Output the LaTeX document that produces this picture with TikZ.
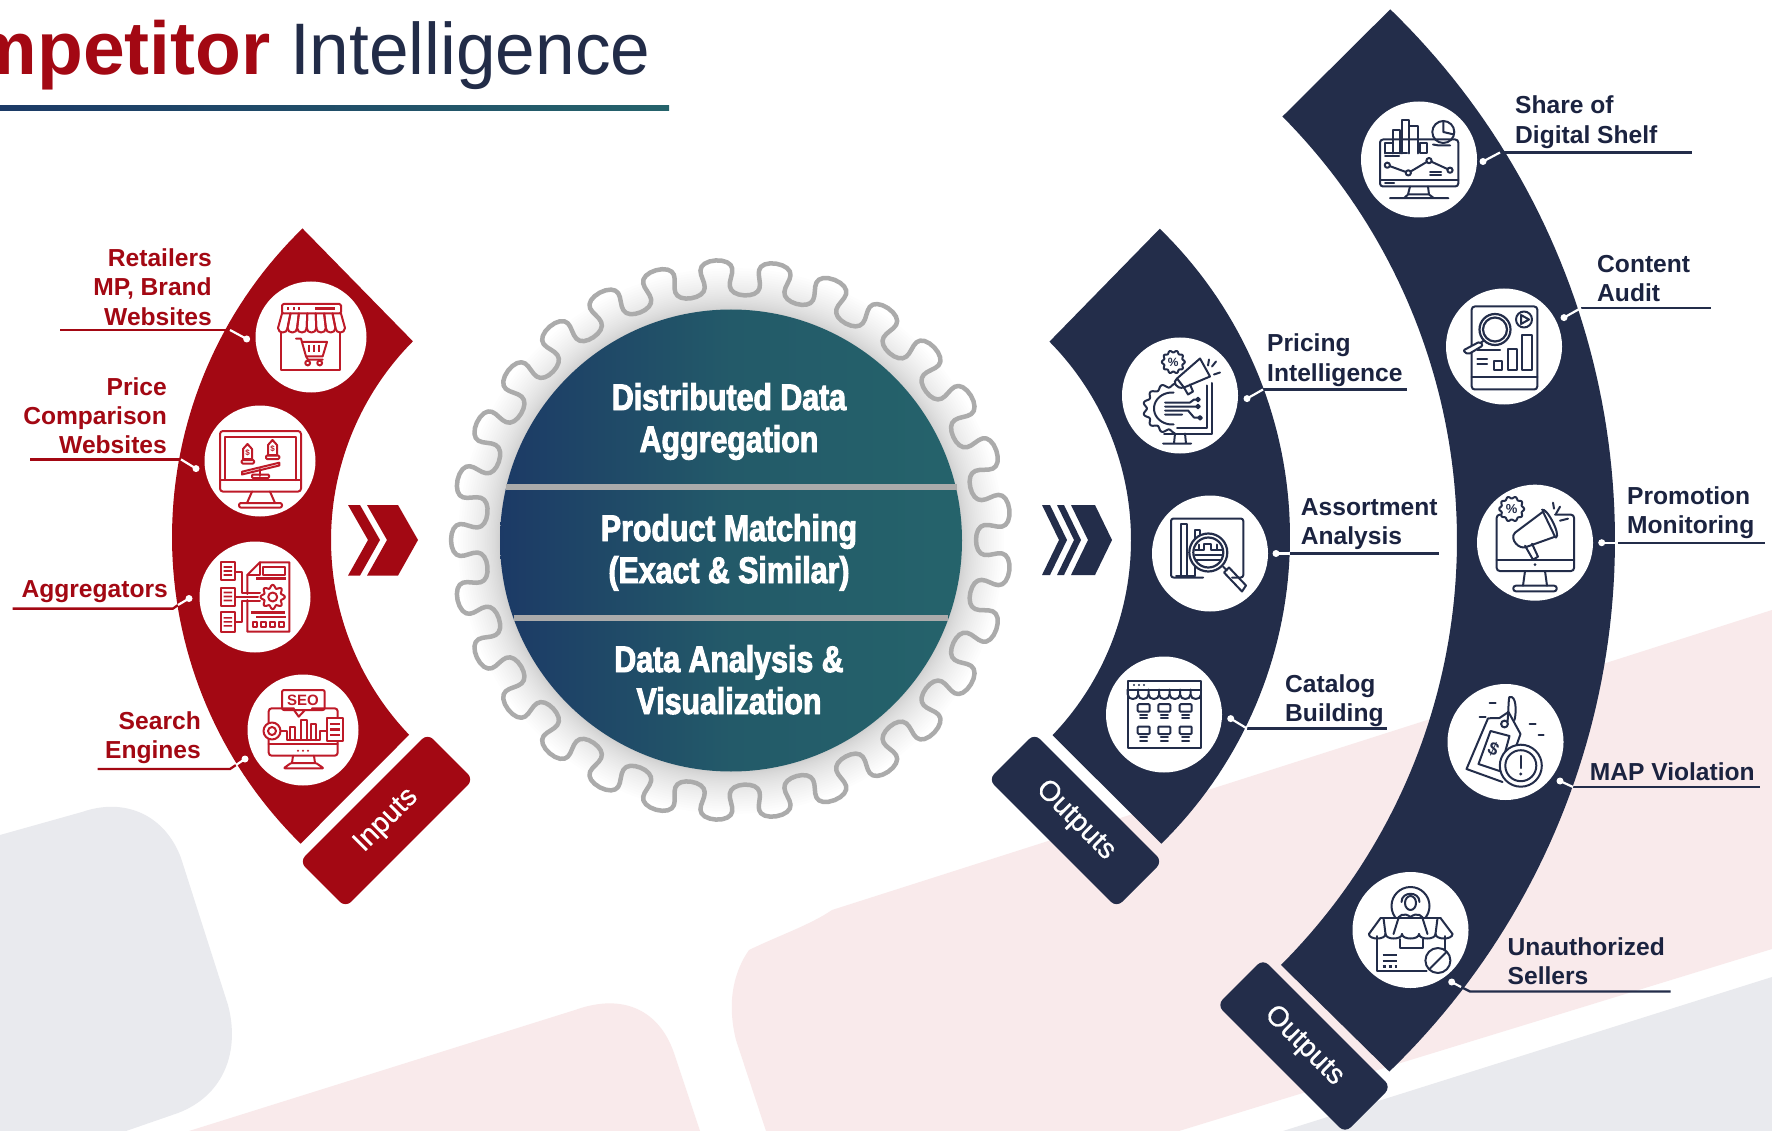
\documentclass[tikz,border=0pt]{standalone}
\usepackage{fontspec}
\setmainfont{Liberation Sans}
\newfontfamily\condfont[FakeStretch=0.82,BoldFeatures={FakeBold=2.6}]{Liberation Sans}
\newfontfamily\medfont[FakeBold=0.7]{Liberation Sans}
\newfontfamily\titlefont[FakeStretch=0.975]{Liberation Sans}
\definecolor{redc}{HTML}{A30813}
\definecolor{navyc}{HTML}{232D4A}
\definecolor{txtn}{HTML}{1B2340}
\definecolor{titlen}{HTML}{222C48}
\definecolor{grayb}{HTML}{E9EAEE}
\definecolor{pinkb}{HTML}{F9EAEB}
\definecolor{gearg}{HTML}{ABABAB}
\definecolor{blueL}{HTML}{1C3A66}
\definecolor{tealM}{HTML}{235A69}
\definecolor{tealR}{HTML}{25636B}
\definecolor{icoR}{HTML}{BE1A28}
\colorlet{icoc}{icoR}
\tikzset{
  ic/.style={draw=icoc,line width=2pt,line join=round,line cap=round},
  icb/.style={draw=icoc,line width=2.6pt,line cap=butt},
  icf/.style={fill=icoc,draw=none},
  wcirc/.style={circle,fill=white,draw=none,inner sep=0pt,minimum size=#1},
  lab/.style={font=\fontsize{24.6}{29.4}\selectfont\bfseries,inner sep=0pt},
  labr/.style={lab,align=right,anchor=base east,text=redc},
  labn/.style={lab,align=left,anchor=base west,text=txtn},
  ctext/.style={font=\fontsize{37}{42}\selectfont\condfont\bfseries,text=white,align=center,inner sep=0pt,anchor=base},
  tab/.style={rectangle,rounded corners=8pt,minimum width=181pt,minimum height=65pt,inner sep=0pt,fill=#1,text=white,font=\fontsize{28.5}{30}\selectfont\medfont},
  dotn/.style={circle,fill=white,draw=none,inner sep=0pt,minimum size=7pt},
  tiny/.style={inner sep=0pt,text=icoc,font=\fontsize{#1}{#1}\selectfont\bfseries}
}
% name, dot, edge, bend, end, colour
\newcommand\leaderline[6]{%
  \coordinate (#1d) at (#2); \coordinate (#1k) at (#3);
  \coordinate (#1b) at (#4); \coordinate (#1e) at (#5);
  \draw[draw=#6,line width=2.3pt] (#1k) -- (#1b) -- (#1e);
  \draw[draw=white,line width=2.2pt] (#1d) -- (#1k);
  \node[dotn] (#1n) at (#1d) {};
}
% x, y, r, teeth, amplitude
\newcommand\cog[5]{\draw[ic] plot[domain=0:360,samples=97] ({#1+(#3+#5*cos(#4*\x))*cos(\x)},{#2+(#3+#5*cos(#4*\x))*sin(\x)}) -- cycle;}
\begin{document}
\begin{tikzpicture}[x=1pt,y=-1pt,declare function={gr(\t)=262.5+17.5*cos(29*\t);ga(\t)=\t+1.5*sin(58*\t);}]
\useasboundingbox (0,0) rectangle (1772,1131);
\clip (0,0) rectangle (1772,1131);
\fill[white] (0,0) rectangle (1772,1131);
% background
\fill[grayb] (0,835) -- (82,812) .. controls (125,797) and (165,815) .. (181,858) -- (228,1005) .. controls (240,1050) and (225,1095) .. (178,1113) -- (126,1131) -- (0,1131) -- cycle;
\fill[pinkb] (189,1131) -- (575,1010) .. controls (625,992) and (660,1012) .. (674,1053) -- (700,1131) -- cycle;
\fill[pinkb] (766,1131) -- (736,1040) .. controls (726,1000) and (735,970) .. (749,950) .. controls (780,935) and (810,925) .. (832,910) -- (1772,610) -- (1772,949) -- (1179,1131) -- cycle;
\fill[grayb] (1283,1131) -- (1772,977) -- (1772,1131) -- cycle;
% title
\node[anchor=base east,inner sep=0pt,text=redc,font=\fontsize{75}{75}\selectfont\bfseries] (t1) at (271,74.7) {mpetitor};
\node[anchor=base west,inner sep=0pt,text=titlen,font=\fontsize{73}{75}\selectfont\titlefont] (t2) at (290,74.7) {Intelligence};
\shade[left color=blueL,right color=tealR] (0,106) rectangle (669,110.7);
% gear shadow
\foreach \k in {1,...,24}{
  \pgfmathsetmacro\rr{231+42*(\k/24)^1.5}
  \fill[black,opacity=0.008] (731,541) ellipse [x radius=\rr pt,y radius=\rr pt];
}
\draw[gearg,line width=4.5pt,line join=round] plot[domain=-180:180,samples=697] ({731-gr(\x)*cos(ga(\x))},{540-gr(\x)*sin(ga(\x))}) -- cycle;
% centre disc
\node[circle,draw=none,minimum size=462pt,inner sep=0pt,left color=blueL,right color=tealR,middle color=tealM] (disc) at (731,540.5) {};
\coordinate (s1a) at (506,487); \coordinate (s1b) at (957,487);
\coordinate (s2a) at (514,618); \coordinate (s2b) at (948,618);
\draw[gearg,line width=5.5pt] (s1a) -- (s1b);
\draw[gearg,line width=5.5pt] (s2a) -- (s2b);
\node[ctext] (c1) at (729,452) {Distributed Data\\Aggregation};
\node[ctext] (c2) at (729,583) {Product Matching\\(Exact \& Similar)};
\node[ctext] (c3) at (729,714) {Data Analysis \&\\Visualization};
% bands
\fill[redc] plot[domain=225.85:134.5,samples=70] ({602+430*cos(\x)},{537+430*sin(\x)}) -- plot[domain=136.3:224.8,samples=70] ({613+282*cos(\x)},{540+282*sin(\x)}) -- cycle;
\fill[navyc] plot[domain=-45.8:45.5,samples=70] ({860+430*cos(\x)},{537+430*sin(\x)}) -- plot[domain=43.8:-44.7,samples=70] ({849+282*cos(\x)},{540+282*sin(\x)}) -- cycle;
\fill[navyc] plot[domain=-45.9:46,samples=90] ({876+739*cos(\x)},{540+739*sin(\x)}) -- plot[domain=45:-44.8,samples=90] ({856+601*cos(\x)},{540+601*sin(\x)}) -- cycle;
% tabs
\node[tab=redc,rotate=45] (inputs) at (386.5,820.5) {Inputs};
\node[tab=navyc,rotate=-45] (outa) at (1075.5,820.5) {Outputs};
\node[tab=navyc,rotate=-45] (outb) at (1304,1046) {Outputs};
% chevrons
\fill[redc] (348,505) -- (360,505) -- (380,540) -- (360,575.6) -- (348,575.6) -- (368,540) -- cycle;
\fill[redc] (367,505) -- (398,505) -- (418,540) -- (398,575.6) -- (367,575.6) -- (387,540) -- cycle;
\fill[navyc] (1042,505) -- (1050,505) -- (1067,540) -- (1050,575) -- (1042,575) -- (1059,540) -- cycle;
\fill[navyc] (1057,505) -- (1064,505) -- (1081,540) -- (1064,575) -- (1057,575) -- (1074,540) -- cycle;
\fill[navyc] (1071,505) -- (1095,505) -- (1112,540) -- (1095,575) -- (1071,575) -- (1088,540) -- cycle;
% white circles
\node[wcirc=111pt] (i1) at (311,337) {};
\node[wcirc=111pt] (i2) at (260,461) {};
\node[wcirc=111pt] (i3) at (255,597) {};
\node[wcirc=111pt] (i4) at (303,730) {};
\node[wcirc=116pt] (o1) at (1180,395.5) {};
\node[wcirc=116pt] (o2) at (1210,553.5) {};
\node[wcirc=116pt] (o3) at (1164,714.5) {};
\node[wcirc=116pt] (o4) at (1419,159.5) {};
\node[wcirc=116pt] (o5) at (1504,346.5) {};
\node[wcirc=116pt] (o6) at (1535,542.7) {};
\node[wcirc=116pt] (o7) at (1505.5,742) {};
\node[wcirc=116pt] (o8) at (1410.5,930) {};
% ---------- red icons
\begin{scope}[shift={(311,337)}]
  \draw[ic,rounded corners=1.5pt] (-29,-33) rectangle (30,-23.5);
  \fill[icoc] (-24,-30) rectangle (-22,-27); \fill[icoc] (-18.5,-30) rectangle (-16.5,-27); \fill[icoc] (-13,-30) rectangle (-11,-27);
  \draw[icb] (4,-28.5) -- (24,-28.5);
  \foreach \k in {0,...,6}{
    \pgfmathsetmacro\xa{-33+\k*67/7}\pgfmathsetmacro\xb{-33+(\k+1)*67/7}
    \pgfmathsetmacro\ta{-29+\k*59/7}\pgfmathsetmacro\tb{-29+(\k+1)*59/7}
    \draw[ic] (\ta,-23.5) -- (\xa,-9) .. controls (\xa,-3) and (\xb,-3) .. (\xb,-9) -- (\tb,-23.5);
  }
  \draw[ic] (-30,-4) -- (-30,33) -- (29,33) -- (29,-4);
  \draw[ic] (-15,1.7) -- (-10,1.7) -- (-5,19.3) -- (11.7,19.3) -- (16,5) -- (-9,5);
  \draw[ic] (-5,19.3) -- (-3,22.7) -- (11.7,22.7);
  \draw[ic] (-3.3,26) circle[radius=2.4pt] (8.7,26) circle[radius=2.4pt];
  \draw[icb] (-2,8) -- (-2,15) (3,8) -- (3,15) (8,8) -- (8,15);
\end{scope}
\begin{scope}[shift={(260,461)}]
  \draw[ic,rounded corners=3pt] (-40,-30) rectangle (41,30.6);
  \draw[ic] (-35,19) -- (-35,-24.5) -- (36,-24.5) -- (36,19);
  \draw[ic] (-40,19) -- (41,19);
  \draw[ic] (-8,30.6) -- (-13,42) (10,30.6) -- (15,42);
  \draw[ic,rounded corners=2pt] (-21,42) rectangle (22,46.6);
  \draw[ic] (-17,-2) -- (-17,-12) -- (-12.5,-17) -- (-8,-12) -- (-8,-2) -- cycle;
  \draw[ic] (8,-6) -- (8,-16) -- (12.5,-21) -- (17,-16) -- (17,-6) -- cycle;
  \node[tiny=8] (d2a) at (-12.5,-8.5) {\$};
  \node[tiny=8] (d2b) at (12.5,-12.5) {\$};
  \draw[ic,rounded corners=1pt] (-18.3,-1) rectangle (-6,2.5);
  \draw[ic,rounded corners=1pt] (6,-5.5) rectangle (19.3,-2);
  \draw[ic] (-18,10.7) -- (19.3,1.7) -- (19.3,4.5) -- (-18,13.5) -- cycle;
  \draw[ic] (0,8) -- (0,15);
  \draw[ic,rounded corners=1pt] (-8,13.5) rectangle (9,17);
\end{scope}
\begin{scope}[shift={(255,597)}]
  \foreach \ya/\yb in {-34.7/-17,-9.3/8.7,15.3/34.7}{
    \draw[ic] (-34.3,\ya) rectangle (-20,\yb);
    \pgfmathsetmacro\ym{(\ya+\yb)/2}
    \draw[icf] (-31.5,\ym-5) rectangle (-23,\ym-3.3) (-31.5,\ym-1) rectangle (-23,\ym+.7) (-31.5,\ym+3) rectangle (-23,\ym+4.7);
  }
  \draw[ic] (-7.7,-3) -- (-7.7,-22) -- (5,-34.7) -- (34.3,-34.7) -- (34.3,34.7) -- (-7.7,34.7) -- (-7.7,3);
  \draw[ic] (-7.7,-22) -- (5,-22) -- (5,-34.7);
  \draw[ic] (8.3,-29.7) rectangle (30,-22);
  \draw[icb] (1,-18.7) -- (31,-18.7) (-4,15.3) -- (30,15.3) (1,20) -- (31,20);
  \cog{17.7}{0}{10.5}{8}{1.6}
  \draw[ic] (17.7,0) circle[radius=4.5pt];
  \draw[ic] (-20,-25.3) -- (-13.3,-25.3) -- (-13.3,-3.7) -- (5,-3.7);
  \draw[ic] (-20,0) -- (3,0);
  \draw[ic] (-20,24.7) -- (-13.3,24.7) -- (-13.3,3.7) -- (5,3.7);
  \foreach \xx in {0,8.5,17.5,26.5}{\draw[ic] (\xx-2.3,25) rectangle (\xx+2.3,29.6);}
\end{scope}
\begin{scope}[shift={(303,730)}]
  \draw[ic,rounded corners=2pt] (-21,-40) rectangle (21.7,-20);
  \node[tiny=15] (seo) at (0,-30) {SEO};
  \draw[ic] (-9,-20) -- (-4.3,-13.3) -- (2,-20);
  \draw[ic,rounded corners=3pt] (-9,-21.7) -- (-34.3,-21.7) -- (-34.3,25.7) -- (34.7,25.7) -- (34.7,-21.7) -- (9,-21.7);
  \draw[ic] (-34.3,14.3) -- (34.7,14.3);
  \fill[icoc] (-5,20.7) circle[radius=1.2pt] (0,20.7) circle[radius=1.2pt] (5,20.7) circle[radius=1.2pt];
  \draw[ic] (-10,25.7) -- (-11,33) (11,25.7) -- (12,33);
  \draw[ic,rounded corners=1pt] (-19.3,38.3) -- (-12,33) -- (13,33) -- (20.7,38.3) -- cycle;
  \fill[white] (-31,1) circle[radius=9pt];
  \draw[ic] (-31,1) circle[radius=8.5pt] (-31,1) circle[radius=4pt];
  \draw[ic] (-22.5,1) -- (-16,1) -- (-16,10) -- (17.3,10) -- (17.3,1) -- (24,1);
  \draw[ic] (-12.7,10) -- (-12.7,-3) -- (-7.7,-3) -- (-7.7,10);
  \draw[ic] (-2,10) -- (-2,-10) -- (4,-10) -- (4,10);
  \draw[ic] (8,10) -- (8,-6.5) -- (13,-6.5) -- (13,10);
  \fill[white] (24,-11.7) rectangle (40,10.7);
  \draw[ic] (24,-11.7) rectangle (40,10.7);
  \draw[icb] (27,-6) -- (37,-6) (27,-.5) -- (37,-.5) (27,5) -- (37,5);
\end{scope}
% ---------- navy icons
\colorlet{icoc}{navyc}
\begin{scope}[shift={(1180,395.5)}]
  \cog{-6.7}{-33.5}{10.5}{10}{1}
  \node[tiny=12] (pc1) at (-6.7,-33.5) {\%};
  \draw[ic] plot[domain=85:275,samples=120] ({-8+(27+1.9*cos(13*\x))*cos(\x)},{13+(23+1.9*cos(13*\x))*sin(\x)});
  \draw[ic] plot[domain=85:275,samples=30] ({-8+18*cos(\x)},{13+16*sin(\x)});
  \fill[white] (-3,-17) -- (20,-37) -- (30,-19) -- (13,-4) -- (8,-1) -- (-4,-8) -- cycle;
  \draw[ic] (-3,-17) -- (20,-37) -- (30,-19) -- (4,-8) -- cycle;
  \draw[ic] (4,-8) -- (8,-1) -- (13,-4) -- (10,-11);
  \draw[ic] (-3,-17) .. controls (-8,-14) and (-4,-6) .. (4,-8);
  \draw[ic] (32,-29) -- (36,-34) (34,-21) -- (40,-23);
  \draw[ic] (28,-30) -- (29,-36);
  \draw[ic] (-15,7) -- (10,7) -- (14,4) -- (16,4) (-15,11) -- (16,11) (-15,15) -- (8,15) -- (14,22) -- (18,22) (-15,19) -- (2,19);
  \draw[ic] (18,4) circle[radius=1.8pt] (18,11) circle[radius=1.8pt] (20,22.3) circle[radius=1.8pt];
  \draw[ic] (31.7,-12.5) -- (31.7,38) -- (-16,38) (27,-10) -- (27,32) -- (-3,32);
  \draw[ic] (-5,38) -- (-6,48) (5,38) -- (6,48) (-17,48) -- (11,48);
\end{scope}
\begin{scope}[shift={(1210,553.5)}]
  \draw[ic,rounded corners=2.5pt] (-7,24) -- (-39,24) -- (-39,-35) -- (33.3,-35) -- (33.3,24) -- (22,24);
  \draw[ic] (-29,22) -- (-29,-30) -- (-23,-30) -- (-23,22) (-34,22) -- (-15,22);
  \draw[ic] (-15,22) -- (-15,-24) -- (-10,-24) -- (-10,-15);
  \fill[white] (-1.7,-1) circle[radius=19pt];
  \draw[ic,line width=2.2pt] (-1.7,-1) circle[radius=19pt] (-1.7,-1) circle[radius=15pt];
  \draw[ic] (-15,-4) -- (-11,-4) -- (-11,-9) (-11,-4) -- (-6,-4) -- (-6,-10) -- (1,-10) -- (1,-4) -- (7,-4) -- (7,-9) (7,-4) -- (12,-4);
  \draw[ic] (-15,1) -- (12,1) (-14,6) -- (11,6);
  \draw[ic] (13,13) -- (17,17) (19,14) -- (36,32) -- (32,38) -- (14,19) -- cycle;
\end{scope}
\begin{scope}[shift={(1164,714.5)}]
  \draw[ic] (-36.3,-34) rectangle (37,33.5);
  \draw[ic] (-36.3,-25) -- (37,-25);
  \fill[icoc] (-30,-29.5) circle[radius=1.2pt] (-25,-29.5) circle[radius=1.2pt] (-20,-29.5) circle[radius=1.2pt];
  \foreach \k in {0,...,6}{
    \pgfmathsetmacro\xa{-36.3+\k*73.3/7}\pgfmathsetmacro\xb{-36.3+(\k+1)*73.3/7}
    \draw[ic] (\xa,-25) -- (\xa,-20) .. controls (\xa,-14) and (\xb,-14) .. (\xb,-20);
  }
  \foreach \xx in {-20.3,0.3,21.7}{\foreach \yy in {-5.8,16.5}{
    \draw[ic,rounded corners=1pt] (\xx-6,\yy-4.5) rectangle (\xx+6,\yy+3);
    \draw[ic] (\xx-3.5,\yy+6) -- (\xx+3.5,\yy+6) (\xx-3.5,\yy+9.5) -- (\xx+3.5,\yy+9.5);
  }}
\end{scope}
\begin{scope}[shift={(1419,159.5)}]
  \draw[ic,rounded corners=3pt] (-39,-20) rectangle (39.3,27);
  \draw[ic] (-39,20.3) -- (39.3,20.3);
  \draw[ic] (-34,-6) -- (-34,-16) -- (-26,-16) -- (-26,-6) (-34,-6) -- (-12,-6);
  \draw[ic] (-25.7,-16) -- (-25.7,-29) -- (-19,-29) -- (-19,-6);
  \draw[ic] (-16.7,-6) -- (-16.7,-39) -- (-9.7,-39) -- (-9.7,-6);
  \draw[ic] (-9,-33) -- (-1.3,-33) -- (-1.3,-6);
  \draw[ic] (1,-16) -- (8.3,-16) -- (8.3,-6) -- (1,-6) -- cycle;
  \draw[ic] (24.3,-27.5) circle[radius=11pt];
  \draw[ic] (24.3,-38.5) -- (24.3,-27.5) -- (35,-25);
  \draw[ic] (14,-15) -- (20,-14) -- (31,-14);
  \draw[ic] (-31.7,5.7) -- (-10.7,13.4) -- (10,1.1) -- (31,10.7);
  \foreach \xx/\yy in {-31.7/5.7,-10.7/13.4,10/1.1,31/10.7}{\fill[white] (\xx,\yy) circle[radius=2.6pt]; \draw[ic] (\xx,\yy) circle[radius=2.6pt];}
  \draw[ic] (-34,-3) -- (-20,-3) (-34,24) -- (-25,24) (11,16) -- (22,16) (11,12.5) -- (22,12.5);
  \draw[ic] (-9,27) -- (-11,35) (9,27) -- (10,35) (-15,38.7) -- (-11,35) -- (10,35) -- (15,38.7) (-29,38.7) -- (29.3,38.7);
\end{scope}
\begin{scope}[shift={(1504,346.5)}]
  \draw[ic,rounded corners=3pt] (-32.3,-40) rectangle (33.3,43);
  \draw[ic] (-32.3,30.6) -- (33.3,30.6);
  \fill[white] (-9,-17) circle[radius=16pt];
  \draw[ic,line width=2.2pt] (-9,-17) circle[radius=15.5pt] (-9,-17) circle[radius=12pt];
  \draw[ic,line width=2pt] (-20,-6) -- (-23,-4);
  \fill[white,rounded corners=2pt] (-24,-5) -- (-21,-1) -- (-36,8) -- (-41,4) -- cycle;
  \draw[ic,rounded corners=2pt] (-24,-5) -- (-21,-1) -- (-36,8) -- (-41,4) -- cycle;
  \draw[ic] (20,-27) circle[radius=8pt];
  \draw[ic] (17,-31.5) -- (25,-27) -- (17,-22.5) -- cycle;
  \draw[ic] (-10,15) rectangle (-1.7,24) (4.3,2.7) rectangle (12.7,24) (18.3,-11.5) rectangle (27.7,24);
  \draw[ic] (-26.7,3.8) -- (-4,3.8) (-26.7,12.6) -- (-17,12.6) (-26.7,17.2) -- (-17,17.2);
\end{scope}
\begin{scope}[shift={(1535,542.7)}]
  \draw[ic,rounded corners=3pt] (-30,-28) -- (-38.3,-28) -- (-38.3,28.3) -- (39,28.3) -- (39,-28) -- (20,-28);
  \draw[ic] (-38.3,16.8) -- (39,16.8);
  \fill[icoc] (0,22) circle[radius=1.5pt];
  \draw[ic] (-10,28.3) -- (-12,43) (10,28.3) -- (12,43);
  \draw[ic,rounded corners=2.5pt] (-21.7,43) rectangle (21.7,48.6);
  \fill[white] (-23.3,-33.7) circle[radius=12pt];
  \cog{-23.3}{-33.7}{11.5}{10}{1}
  \node[tiny=13] (pc2) at (-23.3,-33.7) {\%};
  \draw[ic] (-20,-10) -- (8,-31) -- (20,-6) -- (-8,4) ;
  \draw[ic] (-20,-10) .. controls (-26,-4) and (-16,8) .. (-8,4);
  \draw[ic] (7,-33) .. controls (12,-35) and (26,-8) .. (21,-5);
  \draw[ic] (-10,3) -- (-2,17) -- (3,14) -- (-3,1);
  \draw[ic] (21,-29) -- (25,-36) (25,-22) -- (33,-24);
  \draw[ic] (19,-34) -- (18,-40);
\end{scope}
\begin{scope}[shift={(1505.5,742)}]
  \draw[ic] (-17.5,-23.7) -- (-6,-24) -- (3,-30) -- (15,-8) -- (10,6) (-3,40) -- (-39,27) -- (-17.5,-23.7);
  \draw[ic] (-15,-11) -- (4,-6) -- (-2,16) (-3,30) -- (-27,22) -- (-15,-11);
  \node[tiny=18,rotate=-25] (dl) at (-12,7) {\$};
  \draw[ic] (-1,-18) circle[radius=3.4pt];
  \draw[ic] (2,-20) .. controls (3,-30) and (3,-45) .. (4,-45) .. controls (11,-47) and (11,-30) .. (9,-22);
  \fill[white] (15.3,23.7) circle[radius=21pt];
  \draw[ic,line width=2pt] (15.3,23.7) circle[radius=21pt] (15.3,23.7) circle[radius=15.5pt];
  \draw[ic,line width=2.4pt] (15.3,14) -- (15.3,26);
  \fill[icoc] (15.3,32) circle[radius=1.6pt];
  \draw[ic] (-16,-39) -- (-10,-39) (-26,-25.5) -- (-20,-25.5) (24,-17.8) -- (30,-17.8) (33,-7) -- (38,-7);
\end{scope}
\begin{scope}[shift={(1410.5,930)}]
  \draw[ic] (0,-24) circle[radius=19pt];
  \draw[ic] (0,-27) ellipse [x radius=5.5pt,y radius=7pt];
  \draw[ic] (-9,-28) .. controls (-9,-39) and (9,-39) .. (9,-28);
  \fill[white] (-13,-9) .. controls (-13,-15) and (-6,-18) .. (0,-16) .. controls (6,-18) and (13,-15) .. (13,-9) -- cycle;
  \draw[ic] (-13,-9) .. controls (-13,-15) and (-6,-18) .. (0,-13) .. controls (6,-18) and (13,-15) .. (13,-9);
  \fill[white] (-29,-11.9) rectangle (29,4);
  \draw[ic] (-30,-11.9) -- (30,-11.9);
  \draw[ic] (-30,-11.9) -- (-41.6,4) (30,-11.9) -- (42,4) (-12,-11.9) -- (-17,4) (12,-11.9) -- (17,4) (-27,-11.9) -- (-25,4) (27,-11.9) -- (25,4);
  \foreach \xa/\xb in {-41.6/-25,-25/-8.5,-8.5/8.5,8.5/25,25/42}{\draw[ic] (\xa,4) .. controls (\xa,10) and (\xb,10) .. (\xb,4);}
  \draw[ic] (-33.6,6) -- (-33.6,40.6) -- (16,40.6) (34,6) -- (34,20);
  \draw[ic] (-11,9) -- (-11,18) -- (12,18) -- (12,9);
  \draw[icb] (-28,25) -- (-14,25) (-28,31) -- (-14,31);
  \draw[icb,dash pattern=on 3pt off 3pt] (-28,36.5) -- (-14,36.5);
  \fill[white] (27.4,30.5) circle[radius=13pt];
  \draw[ic,line width=2pt] (27.4,30.5) circle[radius=12.5pt];
  \draw[ic,line width=2pt] (19,39) -- (36,22);
\end{scope}
% leaders
\leaderline{a}{246.7,339}{230,330}{228,330}{60,330}{redc}
\leaderline{b}{196,468.6}{181,459.4}{180,459.4}{30,459.4}{redc}
\leaderline{cc}{189,598.5}{178,605}{173,608.6}{12.7,608.6}{redc}
\leaderline{dd}{245,759}{236,765}{230,769}{97.7,769}{redc}
\leaderline{e}{1247,398.6}{1263,389.5}{1264,389.5}{1407,389.5}{navyc}
\leaderline{f}{1276,553.5}{1290,553.5}{1291,553.5}{1439,553.5}{navyc}
\leaderline{g}{1230.7,718.6}{1247,728.5}{1248,728.5}{1387,728.5}{navyc}
\leaderline{h}{1483,161.5}{1500,152.5}{1502,152.5}{1692,152.5}{navyc}
\leaderline{j}{1564,317.6}{1581,308}{1582,308}{1711,308}{navyc}
\leaderline{k}{1601.7,542.7}{1618,542.7}{1619,542.7}{1765,542.7}{navyc}
\leaderline{m}{1560,781}{1573,787}{1574,787}{1760,787}{navyc}
\leaderline{n}{1451.7,982}{1461,987}{1470,991.5}{1670.6,991.5}{navyc}
% labels (node base = last line)
\node[labr] (la) at (212,325.4) {Retailers\\MP, Brand\\Websites};
\node[labr] (lb) at (167,453.8) {Price\\Comparison\\Websites};
\node[labr] (lc) at (168,597) {Aggregators};
\node[labr] (ld) at (201,758.4) {Search\\Engines};
\node[labn] (le) at (1267,381.1) {Pricing\\Intelligence};
\node[labn] (lf) at (1300.7,544.9) {Assortment\\Analysis};
\node[labn] (lg) at (1285,721.4) {Catalog\\Building};
\node[labn] (lh) at (1515,143.4) {Share of\\Digital Shelf};
\node[labn] (lj) at (1597,301.9) {Content\\Audit};
\node[labn] (lk) at (1627,533.4) {Promotion\\Monitoring};
\node[labn] (lm) at (1589.6,780.5) {MAP Violation};
\node[labn] (ln) at (1507.5,984.4) {Unauthorized\\Sellers};
\end{tikzpicture}
\end{document}
